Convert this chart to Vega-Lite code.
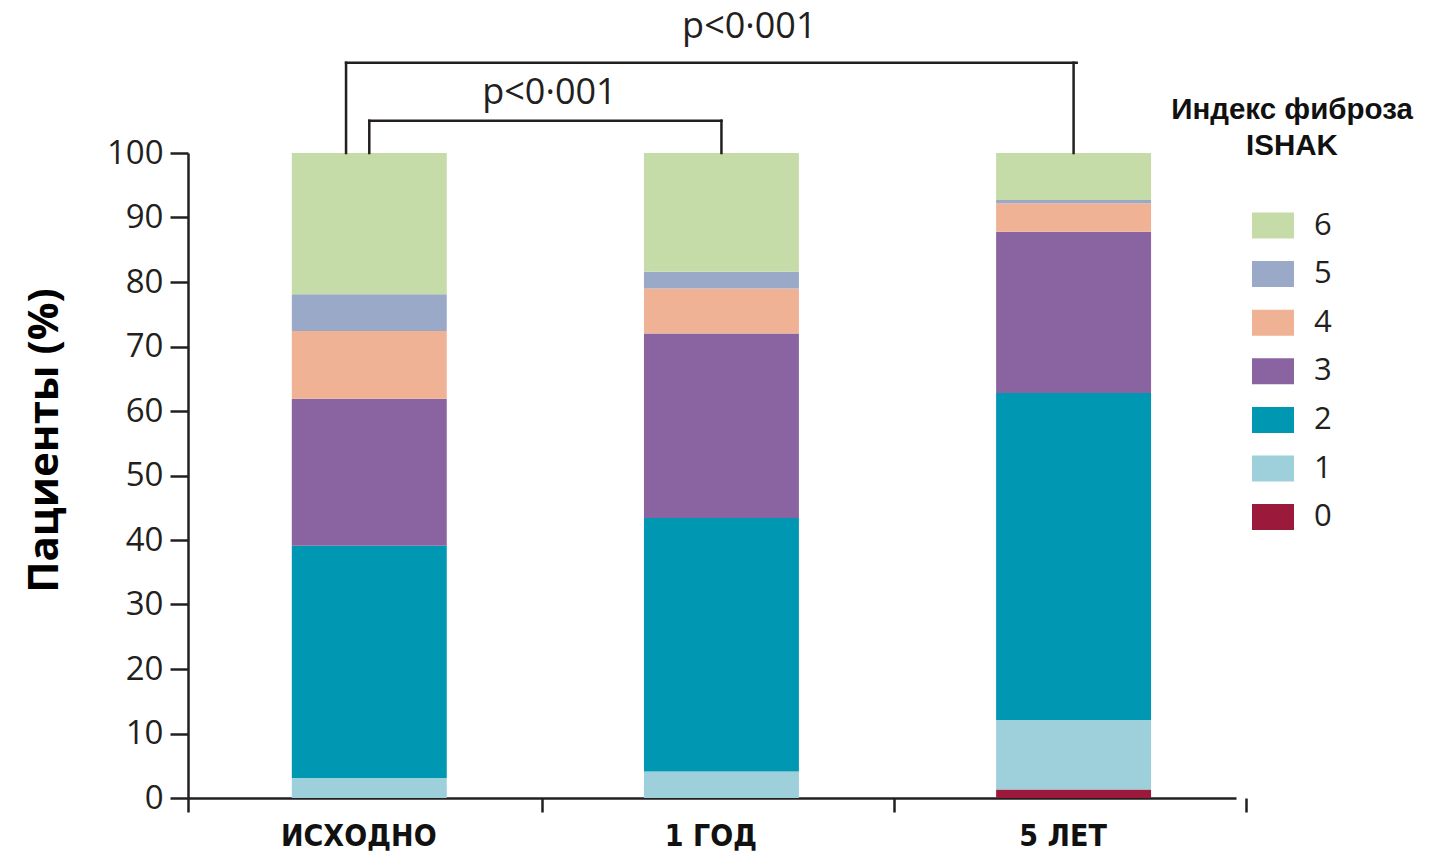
{
  "$schema": "https://vega.github.io/schema/vega-lite/v6.json",
  "width": 1048,
  "height": 645,
  "autosize": {"type": "none"},
  "padding": {"left": 188, "top": 153, "right": 195, "bottom": 58},
  "background": "white",
  "config": {"view": {"stroke": null}},
  "datasets": {
    "bars": [
      {"cat": "ИСХОДНО", "ishak": 1, "pct": 3.1},
      {"cat": "ИСХОДНО", "ishak": 2, "pct": 36.0},
      {"cat": "ИСХОДНО", "ishak": 3, "pct": 22.8},
      {"cat": "ИСХОДНО", "ishak": 4, "pct": 10.5},
      {"cat": "ИСХОДНО", "ishak": 5, "pct": 5.7},
      {"cat": "ИСХОДНО", "ishak": 6, "pct": 21.9},
      {"cat": "1 ГОД", "ishak": 1, "pct": 4.1},
      {"cat": "1 ГОД", "ishak": 2, "pct": 39.3},
      {"cat": "1 ГОД", "ishak": 3, "pct": 28.6},
      {"cat": "1 ГОД", "ishak": 4, "pct": 7.0},
      {"cat": "1 ГОД", "ishak": 5, "pct": 2.6},
      {"cat": "1 ГОД", "ishak": 6, "pct": 18.4},
      {"cat": "5 ЛЕТ", "ishak": 0, "pct": 1.3},
      {"cat": "5 ЛЕТ", "ishak": 1, "pct": 10.8},
      {"cat": "5 ЛЕТ", "ishak": 2, "pct": 50.7},
      {"cat": "5 ЛЕТ", "ishak": 3, "pct": 25.0},
      {"cat": "5 ЛЕТ", "ishak": 4, "pct": 4.4},
      {"cat": "5 ЛЕТ", "ishak": 5, "pct": 0.5},
      {"cat": "5 ЛЕТ", "ishak": 6, "pct": 7.3}
    ],
    "segCenter": [
      {"cat": "ИСХОДНО", "cat2": "ИСХОДНО", "ya": 100, "yb": 105},
      {"cat": "ИСХОДНО", "cat2": "1 ГОД", "ya": 105, "yb": 105},
      {"cat": "1 ГОД", "cat2": "1 ГОД", "ya": 105, "yb": 100},
      {"cat": "5 ЛЕТ", "cat2": "5 ЛЕТ", "ya": 114, "yb": 100}
    ],
    "segLeft": [
      {"cat": "ИСХОДНО", "cat2": "ИСХОДНО", "ya": 100, "yb": 114}
    ],
    "segTop": [
      {"cat": "ИСХОДНО", "cat2": "5 ЛЕТ", "ya": 114, "yb": 114}
    ],
    "pLow": [{"cat": "1 ГОД", "ya": 107.6, "label": "p<0·001"}],
    "pHigh": [{"cat": "1 ГОД", "ya": 117.8, "label": "p<0·001"}]
  },
  "layer": [
    {
      "data": {"name": "bars"},
      "mark": {"type": "bar"},
      "encoding": {
        "x": {
          "field": "cat",
          "type": "nominal",
          "sort": ["ИСХОДНО", "1 ГОД", "5 ЛЕТ"],
          "scale": {"domain": ["ИСХОДНО", "1 ГОД", "5 ЛЕТ"], "paddingInner": 0.56, "paddingOuter": 0.268, "align": 0.55},
          "axis": {
            "title": null,
            "labelAngle": 0,
            "bandPosition": 2.284,
            "tickExtra": true,
            "tickOffset": -104,
            "tickSize": 14,
            "tickWidth": 2.5,
            "tickColor": "#231f20",
            "domainColor": "#231f20",
            "domainWidth": 2.5,
            "labelFont": "DejaVu Sans Condensed, Liberation Sans, sans-serif",
            "labelFontWeight": "bold",
            "labelFontSize": 30,
            "labelColor": "#111111",
            "labelPadding": 9,
            "labelOffset": 93,
            "labelBaseline": "top"
          }
        },
        "y": {
          "field": "pct",
          "type": "quantitative",
          "stack": "zero",
          "scale": {"domain": [0, 100], "nice": false},
          "axis": {
            "values": [0, 10, 20, 30, 40, 50, 60, 70, 80, 90, 100],
            "grid": false,
            "title": "Пациенты (%)",
            "titleFont": "Open Sans",
            "titleFontSize": 42,
            "titleFontWeight": "bold",
            "titleColor": "#000000",
            "titleX": -122,
            "titleY": 287,
            "labelFont": "Open Sans",
            "labelFontSize": 33,
            "labelColor": "#231f20",
            "labelPadding": 7,
            "tickSize": 18,
            "tickWidth": 2.5,
            "tickColor": "#231f20",
            "domainColor": "#231f20",
            "domainWidth": 2.5
          }
        },
        "order": {"field": "ishak", "type": "quantitative", "sort": "ascending"},
        "color": {
          "field": "ishak",
          "type": "nominal",
          "scale": {
            "domain": [6, 5, 4, 3, 2, 1, 0],
            "range": ["#c5dca8", "#9aa9c8", "#f0b295", "#8964a0", "#0097b3", "#9dd0da", "#9b1a3c"]
          },
          "legend": {
            "title": ["Индекс фиброза", "ISHAK"],
            "orient": "none",
            "legendX": 983,
            "legendY": -57,
            "padding": 0,
            "titleFont": "Liberation Sans",
            "titleFontSize": 29.5,
            "titleFontWeight": "bold",
            "titleColor": "#111111",
            "titleLimit": 400,
            "titleAnchor": "middle",
            "titleAlign": "center",
            "titleLineHeight": 36,
            "titlePadding": 43,
            "symbolType": "M-1,-0.62H1V0.62H-1Z",
            "symbolSize": 1764,
            "symbolStrokeWidth": 0,
            "symbolOpacity": 1,
            "labelFont": "Open Sans",
            "labelFontSize": 31,
            "labelColor": "#231f20",
            "labelOffset": 20,
            "rowPadding": 12.6
          }
        }
      }
    },
    {
      "data": {"name": "segCenter"},
      "mark": {"type": "rule", "color": "#231f20", "strokeWidth": 2.5, "strokeCap": "square"},
      "encoding": {
        "x": {"field": "cat", "type": "nominal", "bandPosition": 0.5, "axis": {"title": null}},
        "x2": {"field": "cat2", "bandPosition": 0.5},
        "y": {"field": "ya", "type": "quantitative", "scale": {"domain": [0, 100], "nice": false}, "axis": {"title": "Пациенты (%)"}},
        "y2": {"field": "yb"}
      }
    },
    {
      "data": {"name": "segLeft"},
      "mark": {"type": "rule", "color": "#231f20", "strokeWidth": 2.5, "strokeCap": "square"},
      "encoding": {
        "x": {"field": "cat", "type": "nominal", "bandPosition": 0.35, "axis": {"title": null}},
        "x2": {"field": "cat2", "bandPosition": 0.35},
        "y": {"field": "ya", "type": "quantitative", "scale": {"domain": [0, 100], "nice": false}, "axis": {"title": "Пациенты (%)"}},
        "y2": {"field": "yb"}
      }
    },
    {
      "data": {"name": "segTop"},
      "mark": {"type": "rule", "color": "#231f20", "strokeWidth": 2.5, "strokeCap": "square"},
      "encoding": {
        "x": {"field": "cat", "type": "nominal", "bandPosition": 0.35, "axis": {"title": null}},
        "x2": {"field": "cat2", "bandPosition": 0.52},
        "y": {"field": "ya", "type": "quantitative", "scale": {"domain": [0, 100], "nice": false}, "axis": {"title": "Пациенты (%)"}},
        "y2": {"field": "yb"}
      }
    },
    {
      "data": {"name": "pLow"},
      "mark": {"type": "text", "font": "Open Sans", "fontSize": 36, "color": "#231f20", "align": "center", "baseline": "alphabetic"},
      "encoding": {
        "x": {"field": "cat", "type": "nominal", "bandPosition": -0.61, "axis": {"title": null}},
        "y": {"field": "ya", "type": "quantitative", "scale": {"domain": [0, 100], "nice": false}, "axis": {"title": "Пациенты (%)"}},
        "text": {"field": "label"}
      }
    },
    {
      "data": {"name": "pHigh"},
      "mark": {"type": "text", "font": "Open Sans", "fontSize": 36, "color": "#231f20", "align": "center", "baseline": "alphabetic"},
      "encoding": {
        "x": {"field": "cat", "type": "nominal", "bandPosition": 0.68, "axis": {"title": null}},
        "y": {"field": "ya", "type": "quantitative", "scale": {"domain": [0, 100], "nice": false}, "axis": {"title": "Пациенты (%)"}},
        "text": {"field": "label"}
      }
    }
  ]
}
